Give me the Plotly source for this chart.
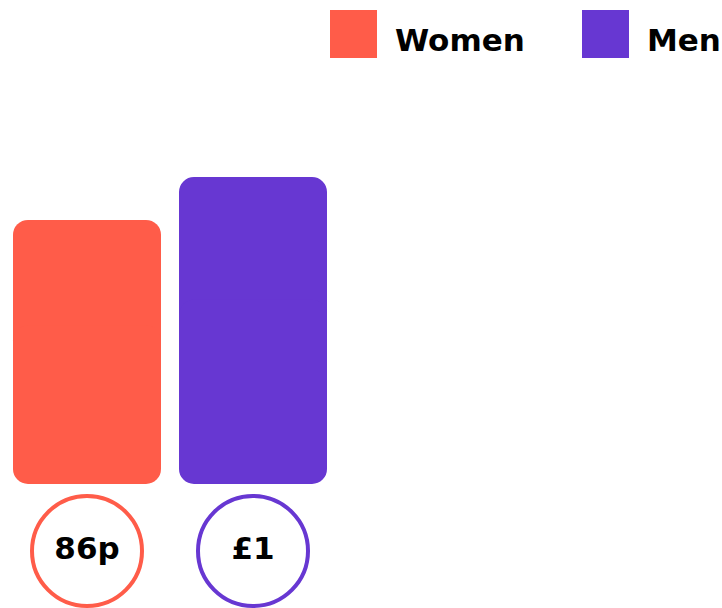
import plotly.graph_objects as go

# ---- data ----
categories = ["Women", "Men"]
values = [0.86, 1.00]
value_labels = ["86p", "£1"]
colors = ["#FF5C49", "#6737D2"]

# ---- layout constants (pixels) ----
W, H = 722, 608
px_per_y = 307.0          # pixels per value unit
y0_px = 484.0             # pixel row of value 0
px_per_x = 166.0          # pixels between categories
x0_px = 87.0              # pixel column of first category
bar_w = 148.0 / px_per_x
circle_y = -(551.0 - y0_px) / px_per_y
FONT = "DejaVu Sans"

fig = go.Figure()

for cat, v, col in zip(categories, values, colors):
    # upper half, rounded at top
    fig.add_trace(go.Bar(x=[cat], y=[v * 0.6], base=[v * 0.4], width=bar_w,
                         marker=dict(color=col, cornerradius=15, line=dict(width=0)),
                         hoverinfo="skip", showlegend=False))
    # lower half, rounded at bottom
    fig.add_trace(go.Bar(x=[cat], y=[-v * 0.6], base=[v * 0.6], width=bar_w,
                         marker=dict(color=col, cornerradius=15, line=dict(width=0)),
                         hoverinfo="skip", showlegend=False))

fig.add_trace(go.Scatter(
    x=categories, y=[circle_y] * len(categories), mode="markers+text",
    text=value_labels, textposition="middle center",
    textfont=dict(family=FONT, size=31, color="#000000", weight="bold"),
    marker=dict(symbol="circle-open", size=110, color=colors, line=dict(width=4)),
    cliponaxis=False, hoverinfo="skip", showlegend=False))

# custom legend (paper coordinates)
legend_x = [330, 582]
for cat, col, lx in zip(categories, colors, legend_x):
    fig.add_shape(type="rect", xref="paper", yref="paper",
                  x0=lx / W, x1=(lx + 47) / W, y0=1 - 58 / H, y1=1 - 10 / H,
                  fillcolor=col, line=dict(width=0))
    fig.add_annotation(xref="paper", yref="paper", x=(lx + 63) / W, y=1 - 40 / H,
                       xanchor="left", yanchor="middle", showarrow=False, text=cat,
                       font=dict(family=FONT, size=31, color="#000000", weight="bold"))

fig.update_layout(
    width=W, height=H, margin=dict(l=0, r=0, t=0, b=0),
    plot_bgcolor="white", paper_bgcolor="white",
    barmode="overlay", showlegend=False, hovermode=False,
    xaxis=dict(range=[-x0_px / px_per_x, (W - x0_px) / px_per_x], visible=False,
               type="category", categoryorder="array", categoryarray=categories),
    yaxis=dict(range=[-(H - y0_px) / px_per_y, y0_px / px_per_y], visible=False),
)

fig.write_html("out.html")
